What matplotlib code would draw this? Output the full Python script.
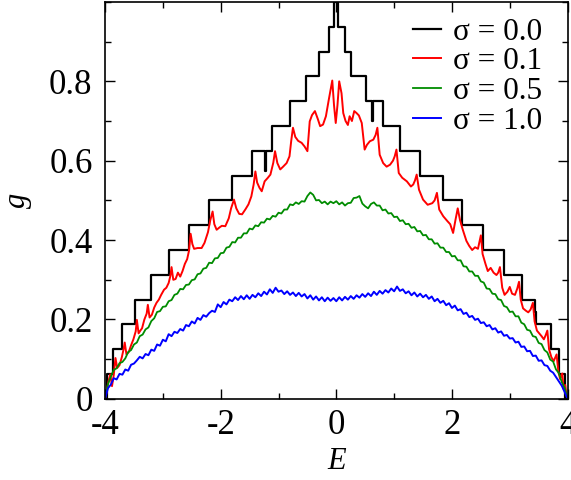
import numpy as np
import matplotlib
matplotlib.use('Agg')
import matplotlib.pyplot as plt
from matplotlib.ticker import MultipleLocator

plt.rcParams['font.family'] = ['Liberation Serif', 'DejaVu Serif']
plt.rcParams['axes.unicode_minus'] = False

labels = ['σ = 0.0', 'σ = 0.1', 'σ = 0.5', 'σ = 1.0']
colors = ['black', '#ff0000', '#008c00', '#0000ff']

# sigma = 0.0 : staircase (segment start energies and levels)
E_black = [-4.00, -3.97, -3.87, -3.71, -3.49, -3.21, -2.90, -2.55, -2.20, -1.80,
           -1.46, -1.23, -1.215, -1.12, -0.80, -0.52, -0.30, -0.13, -0.04, 0.03,
           0.147, 0.26, 0.52, 0.62, 0.635, 0.80, 1.10, 1.44, 1.84, 2.18,
           2.54, 2.90, 3.21, 3.43, 3.46, 3.71, 3.86, 3.95, 4.00]
g_black = [0.0, 0.0625, 0.125, 0.1875, 0.25, 0.3125, 0.375, 0.4375, 0.5, 0.5625,
           0.625, 0.573, 0.625, 0.6875, 0.75, 0.8125, 0.875, 0.9375, 1.0, 0.9375,
           0.875, 0.8125, 0.75, 0.70, 0.75, 0.6875, 0.625, 0.5625, 0.5, 0.4375,
           0.375, 0.3125, 0.25, 0.22, 0.1875, 0.125, 0.0625, 0.0, 0.0]

# sigma = 0.1
E_red = [-4.00, -3.97, -3.94, -3.91, -3.88, -3.85, -3.82, -3.79, -3.75, -3.71,
         -3.68, -3.66, -3.63, -3.59, -3.55, -3.51, -3.47, -3.45, -3.42, -3.39,
         -3.36, -3.32, -3.28, -3.26, -3.23, -3.19, -3.15, -3.11, -3.07, -3.03,
         -2.98, -2.94, -2.90, -2.87, -2.85, -2.82, -2.78, -2.74, -2.70, -2.66,
         -2.62, -2.58, -2.55, -2.52, -2.49, -2.46, -2.40, -2.33, -2.28, -2.22,
         -2.18, -2.14, -2.11, -2.07, -2.02, -1.98, -1.92, -1.86, -1.82, -1.77,
         -1.73, -1.68, -1.63, -1.57, -1.52, -1.47, -1.43, -1.40, -1.37, -1.33,
         -1.29, -1.24, -1.19, -1.14, -1.09, -1.06, -1.02, -0.97, -0.92, -0.86,
         -0.81, -0.78, -0.75, -0.71, -0.66, -0.60, -0.55, -0.50, -0.46, -0.42,
         -0.37, -0.32, -0.28, -0.23, -0.18, -0.13, -0.09, -0.07, -0.04, -0.01,
         0.02, 0.05, 0.09, 0.12, 0.16, 0.20, 0.23, 0.27, 0.31, 0.35,
         0.39, 0.44, 0.49, 0.53, 0.58, 0.64, 0.68, 0.71, 0.75, 0.81,
         0.87, 0.93, 0.98, 1.01, 1.04, 1.08, 1.14, 1.22, 1.29, 1.33,
         1.36, 1.39, 1.43, 1.50, 1.58, 1.66, 1.70, 1.74, 1.78, 1.85,
         1.92, 1.97, 2.02, 2.06, 2.10, 2.14, 2.19, 2.25, 2.30, 2.35,
         2.40, 2.45, 2.48, 2.50, 2.53, 2.58, 2.62, 2.67, 2.72, 2.77,
         2.80, 2.83, 2.87, 2.91, 2.96, 3.00, 3.04, 3.09, 3.13, 3.16,
         3.19, 3.23, 3.28, 3.32, 3.36, 3.40, 3.43, 3.47, 3.51, 3.55,
         3.59, 3.62, 3.65, 3.68, 3.72, 3.76, 3.79, 3.81, 3.84, 3.87,
         3.89, 3.91, 3.93, 3.96, 3.98, 4.00]
g_red = [0.000, 0.020, 0.045, 0.062, 0.032, 0.060, 0.103, 0.078, 0.085, 0.105,
         0.125, 0.142, 0.112, 0.118, 0.135, 0.150, 0.170, 0.199, 0.165, 0.172,
         0.178, 0.200, 0.215, 0.237, 0.205, 0.212, 0.230, 0.242, 0.250, 0.262,
         0.275, 0.280, 0.292, 0.310, 0.332, 0.300, 0.302, 0.318, 0.308, 0.322,
         0.340, 0.352, 0.372, 0.416, 0.390, 0.378, 0.380, 0.380, 0.393, 0.420,
         0.450, 0.472, 0.440, 0.426, 0.432, 0.436, 0.435, 0.455, 0.480, 0.502,
         0.480, 0.466, 0.465, 0.478, 0.490, 0.510, 0.540, 0.573, 0.545, 0.532,
         0.523, 0.548, 0.556, 0.565, 0.595, 0.624, 0.594, 0.578, 0.585, 0.594,
         0.611, 0.650, 0.683, 0.660, 0.650, 0.645, 0.636, 0.624, 0.699, 0.715,
         0.725, 0.705, 0.687, 0.691, 0.712, 0.754, 0.785, 0.802, 0.740, 0.695,
         0.740, 0.800, 0.770, 0.720, 0.700, 0.690, 0.712, 0.700, 0.725, 0.720,
         0.714, 0.695, 0.628, 0.640, 0.649, 0.653, 0.665, 0.683, 0.615, 0.594,
         0.585, 0.590, 0.600, 0.611, 0.628, 0.569, 0.557, 0.548, 0.535, 0.540,
         0.550, 0.565, 0.527, 0.502, 0.489, 0.493, 0.500, 0.519, 0.477, 0.460,
         0.448, 0.440, 0.418, 0.450, 0.480, 0.450, 0.425, 0.398, 0.385, 0.375,
         0.382, 0.378, 0.398, 0.412, 0.365, 0.340, 0.322, 0.330, 0.318, 0.312,
         0.318, 0.332, 0.280, 0.262, 0.270, 0.282, 0.265, 0.262, 0.278, 0.295,
         0.250, 0.228, 0.222, 0.218, 0.225, 0.242, 0.195, 0.172, 0.165, 0.158,
         0.150, 0.160, 0.172, 0.125, 0.105, 0.095, 0.105, 0.112, 0.070, 0.050,
         0.058, 0.064, 0.025, 0.035, 0.010, 0.000]

# sigma = 0.5 and sigma = 1.0, sampled every 0.05 in E
E_grid = np.linspace(-4.0, 4.0, 161)
g_green = [0.000, 0.037, 0.056, 0.073, 0.077, 0.090, 0.093, 0.102, 0.118, 0.123,
           0.137, 0.142, 0.158, 0.162, 0.175, 0.180, 0.196, 0.203, 0.219, 0.221,
           0.232, 0.233, 0.246, 0.249, 0.262, 0.265, 0.277, 0.276, 0.287, 0.288,
           0.299, 0.301, 0.314, 0.316, 0.328, 0.330, 0.343, 0.342, 0.354, 0.355,
           0.367, 0.368, 0.381, 0.383, 0.395, 0.394, 0.406, 0.406, 0.417, 0.417,
           0.429, 0.427, 0.437, 0.435, 0.445, 0.444, 0.454, 0.452, 0.461, 0.459,
           0.469, 0.467, 0.477, 0.477, 0.490, 0.488, 0.495, 0.491, 0.498, 0.497,
           0.511, 0.520, 0.514, 0.500, 0.501, 0.493, 0.497, 0.490, 0.497, 0.493,
           0.498, 0.490, 0.495, 0.487, 0.493, 0.494, 0.506, 0.507, 0.511, 0.492,
           0.485, 0.480, 0.491, 0.495, 0.487, 0.487, 0.475, 0.477, 0.467, 0.468,
           0.458, 0.459, 0.448, 0.450, 0.440, 0.441, 0.431, 0.433, 0.422, 0.423,
           0.412, 0.413, 0.402, 0.402, 0.391, 0.392, 0.381, 0.381, 0.370, 0.370,
           0.359, 0.360, 0.349, 0.349, 0.334, 0.333, 0.321, 0.321, 0.310, 0.310,
           0.296, 0.293, 0.278, 0.277, 0.265, 0.264, 0.251, 0.249, 0.234, 0.231,
           0.219, 0.220, 0.208, 0.208, 0.192, 0.188, 0.174, 0.172, 0.158, 0.156,
           0.141, 0.138, 0.123, 0.117, 0.099, 0.094, 0.074, 0.065, 0.042, 0.028,
           0.000]
g_blue = [0.000, 0.027, 0.036, 0.052, 0.049, 0.063, 0.061, 0.074, 0.071, 0.086,
          0.089, 0.097, 0.106, 0.102, 0.113, 0.110, 0.124, 0.121, 0.137, 0.134,
          0.149, 0.145, 0.163, 0.158, 0.169, 0.166, 0.176, 0.172, 0.186, 0.183,
          0.195, 0.190, 0.204, 0.199, 0.211, 0.207, 0.216, 0.222, 0.219, 0.238,
          0.231, 0.244, 0.238, 0.250, 0.246, 0.256, 0.249, 0.259, 0.251, 0.261,
          0.252, 0.262, 0.256, 0.266, 0.259, 0.270, 0.263, 0.276, 0.267, 0.280,
          0.270, 0.273, 0.264, 0.271, 0.262, 0.268, 0.259, 0.267, 0.258, 0.264,
          0.253, 0.261, 0.250, 0.258, 0.248, 0.256, 0.246, 0.255, 0.247, 0.254,
          0.246, 0.256, 0.248, 0.257, 0.250, 0.259, 0.252, 0.261, 0.255, 0.264,
          0.257, 0.266, 0.259, 0.270, 0.262, 0.272, 0.265, 0.274, 0.268, 0.278,
          0.271, 0.283, 0.272, 0.276, 0.266, 0.271, 0.261, 0.268, 0.258, 0.265,
          0.256, 0.262, 0.252, 0.258, 0.246, 0.252, 0.242, 0.247, 0.236, 0.241,
          0.229, 0.235, 0.223, 0.226, 0.214, 0.217, 0.206, 0.209, 0.199, 0.202,
          0.191, 0.193, 0.183, 0.186, 0.175, 0.178, 0.167, 0.170, 0.159, 0.161,
          0.152, 0.153, 0.142, 0.144, 0.131, 0.132, 0.120, 0.121, 0.108, 0.109,
          0.096, 0.097, 0.085, 0.083, 0.071, 0.066, 0.055, 0.044, 0.033, 0.017,
          0.000]

fig = plt.figure(figsize=(5.71, 4.80), dpi=100)
ax = fig.add_axes([0.184, 0.169, 0.810, 0.827])

ax.step(E_black, g_black, where='post', color=colors[0], lw=1.6, label=labels[0])
ax.plot(E_red, g_red, color=colors[1], lw=1.4, label=labels[1])
ax.plot(E_grid, g_green, color=colors[2], lw=1.3, label=labels[2])
ax.plot(E_grid, g_blue, color=colors[3], lw=1.4, label=labels[3])

ax.set_xlim(-4, 4)
ax.set_ylim(0, 1.0)
ax.set_xticks([-4, -2, 0, 2, 4])
ax.set_xticklabels(['-4', '-2', '0', '2', '4'])
ax.set_yticks([0, 0.2, 0.4, 0.6, 0.8])
ax.set_yticklabels(['0', '0.2', '0.4', '0.6', '0.8'])
ax.xaxis.set_minor_locator(MultipleLocator(1))
ax.yaxis.set_minor_locator(MultipleLocator(0.1))
ax.tick_params(which='both', direction='in', top=True, right=True, width=1.0)
ax.tick_params(which='major', length=7, labelsize=25)
ax.tick_params(axis='y', which='major', pad=9)
ax.tick_params(axis='x', which='major', pad=7)
ax.tick_params(which='minor', length=4.5)
for s in ax.spines.values():
    s.set_linewidth(1.2)

ax.set_xlabel('E', fontsize=22, fontstyle='italic', labelpad=4)
ax.set_ylabel('g', fontsize=22, fontstyle='italic', labelpad=12)

ax.legend(loc='upper right', bbox_to_anchor=(0.946, 0.96), frameon=False,
          fontsize=22.5, handlelength=0.9, handletextpad=0.4, labelspacing=0.02,
          borderpad=0, borderaxespad=0)

fig.savefig('out.png', dpi=100)
